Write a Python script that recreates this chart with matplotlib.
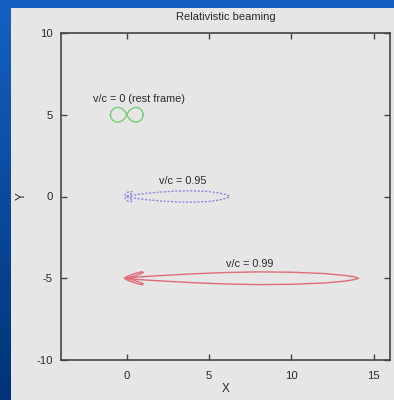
import numpy as np
import matplotlib
matplotlib.use("Agg")
import matplotlib.pyplot as plt
from matplotlib.patches import Rectangle

plt.rcParams["axes.unicode_minus"] = False
plt.rcParams["font.family"] = ["Liberation Sans", "DejaVu Sans"]

# ---- data (upper halves, relative to each curve's centre) ----
title = "Relativistic beaming"
x_ticks = [0, 5, 10, 15]
y_ticks = [-10, -5, 0, 5, 10]

# rest frame (v/c = 0): right lobe, upper half
rest_x = [1.0, 0.95, 0.85, 0.7, 0.5, 0.3, 0.15, 0.05, 0.0]
rest_y = [0.0, 0.2, 0.34, 0.43, 0.45, 0.38, 0.25, 0.1, 0.0]
rest_center = 5.0

# v/c = 0.95 : forward lobe (upper half) and backward loop (upper half)
b95_fx = [0.0, 0.5, 1.0, 2.0, 3.0, 4.0, 5.0, 5.6, 6.0, 6.2, 6.25]
b95_fy = [0.0, 0.1, 0.17, 0.27, 0.33, 0.35, 0.3, 0.22, 0.12, 0.05, 0.0]
b95_bx = [0.0, 0.2, 0.35, 0.3, 0.15, 0.0, -0.1, -0.13]
b95_by = [0.0, 0.12, 0.24, 0.3, 0.3, 0.24, 0.12, 0.0]
b95_center = 0.0

# v/c = 0.99 : forward lobe (upper half) and backward "arrow head" (upper half)
b99_fx = [0.0, 0.5, 1.0, 2.0, 4.0, 6.0, 8.0, 10.0, 12.0, 13.2, 13.8, 14.1]
b99_fy = [0.0, 0.06, 0.1, 0.16, 0.27, 0.35, 0.39, 0.37, 0.29, 0.18, 0.09, 0.0]
b99_bx = [0.0, 0.4, 0.8, 1.0, 0.95, 0.6, 0.2, -0.05, -0.15]
b99_by = [0.0, 0.12, 0.25, 0.34, 0.4, 0.32, 0.18, 0.07, 0.0]
b99_center = -5.0

labels = ["v/c = 0 (rest frame)", "v/c = 0.95", "v/c = 0.99"]
label_x = [0.75, 3.4, 7.5]
label_y = [5.95, 0.95, -4.15]


def closed_loop(xs, ys):
    xs = np.asarray(xs, float)
    ys = np.asarray(ys, float)
    X = np.concatenate([xs, xs[::-1]])
    Y = np.concatenate([ys, -ys[::-1]])
    return X, Y


W, H = 394, 400
fig = plt.figure(figsize=(W / 100, H / 100), dpi=100)

# slide background (blue gradient) + light panel
bg = fig.add_axes([0, 0, 1, 1])
grad = np.linspace(0, 1, 256)[:, None]
top = np.array([0.08, 0.38, 0.76])
bot = np.array([0.0, 0.20, 0.47])
img = top[None, None, :] * (1 - grad[..., None]) + bot[None, None, :] * grad[..., None]
img = np.repeat(img, 4, axis=1)
bg.imshow(img, aspect="auto", extent=[0, 1, 0, 1], origin="upper")
bg.add_patch(Rectangle((11 / W, 0), 1 - 11 / W, 1 - 8 / H, facecolor="#e6e6e6",
                       edgecolor="none"))
bg.set_xlim(0, 1)
bg.set_ylim(0, 1)
bg.axis("off")

ax = fig.add_axes([61 / W, 1 - 360 / H, (390 - 61) / W, (360 - 33) / H])
ax.set_facecolor("#e6e6e6")

# rest frame: two lobes
rx, ry = closed_loop(rest_x, rest_y)
ax.plot(rx, ry + rest_center, color="#77cc77", lw=1.0)
ax.plot(-rx, ry + rest_center, color="#77cc77", lw=1.0)

# v/c = 0.95
fx, fy = closed_loop(b95_fx, b95_fy)
bx, by = closed_loop(b95_bx, b95_by)
ax.plot(fx, fy + b95_center, color="#8a8ae0", lw=1.0, ls=(0, (1.5, 1.2)))
ax.plot(bx, by + b95_center, color="#8a8ae0", lw=1.0, ls=(0, (1.5, 1.2)))

# v/c = 0.99
fx, fy = closed_loop(b99_fx, b99_fy)
bx, by = closed_loop(b99_bx, b99_by)
ax.plot(fx, fy + b99_center, color="#e06a78", lw=1.0)
ax.plot(bx, by + b99_center, color="#e06a78", lw=1.0)

for t, x, y in zip(labels, label_x, label_y):
    ax.text(x, y, t, ha="center", va="center", fontsize=7.8, color="#2a2a2a")

ax.set_xlim(-4, 16)
ax.set_ylim(-10, 10)
ax.set_xticks(x_ticks)
ax.set_yticks(y_ticks)
ax.tick_params(direction="in", length=4, width=1, top=True, right=True,
               labelsize=8.2, labelcolor="#2a2a2a", color="#444444", pad=6)
ax.tick_params(axis="x", pad=8)
for s in ax.spines.values():
    s.set_color("#444444")
    s.set_linewidth(1.2)
ax.set_title(title, fontsize=8, color="#2a2a2a", pad=9)
ax.set_xlabel("X", fontsize=8.5, color="#2a2a2a")
ax.set_ylabel("Y", fontsize=8.5, color="#2a2a2a")
ax.xaxis.set_label_coords((226 - 61) / 329, (360 - 383) / 327)
ax.yaxis.set_label_coords((28 - 61) / 329, 0.5)

fig.savefig("out.png", dpi=100, facecolor=fig.get_facecolor())
